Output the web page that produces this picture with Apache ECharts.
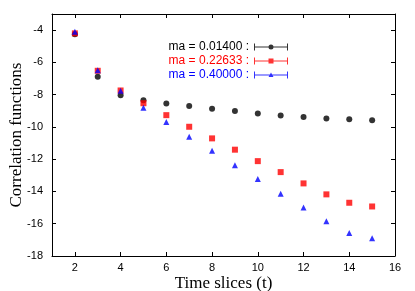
<!DOCTYPE html>
<html>
<head>
<meta charset="utf-8">
<script src="https://cdn.jsdelivr.net/npm/echarts@6/dist/echarts.min.js"></script>
<style>html,body{margin:0;padding:0;background:#fff;}#c{width:415px;height:291px;}</style>
</head>
<body>
<div id="c"></div>
<script>
var timeSlices = [2,3,4,5,6,7,8,9,10,11,12,13,14,15];
var seriesNames = ['ma = 0.01400 :', 'ma = 0.22633 :', 'ma = 0.40000 :'];
var ma01400 = [-4.25,-6.89,-8.03,-8.34,-8.54,-8.71,-8.87,-9.02,-9.16,-9.29,-9.39,-9.47,-9.53,-9.58];
var ma22633 = [-4.2,-6.52,-7.74,-8.53,-9.27,-9.99,-10.71,-11.41,-12.12,-12.8,-13.5,-14.18,-14.7,-14.93];
var ma40000 = [-4.1,-6.48,-7.75,-8.81,-9.7,-10.61,-11.48,-12.37,-13.23,-14.14,-15.0,-15.85,-16.58,-16.9];
var xTickLabels = [2,4,6,8,10,12,14,16];
var yTickLabels = [-18,-16,-14,-12,-10,-8,-6,-4];

function pairs(vals){ return timeSlices.map(function(t,i){ return [t, vals[i]]; }); }

var bar = 'M0,0h1v3h32v-3h1v7h-1v-3h-32v3h-1z';
var circleIcon = 'path://' + bar + 'M14.5,3.5a2.5,2.5 0 1,1 5,0a2.5,2.5 0 1,1 -5,0z';
var squareIcon = 'path://' + bar + 'M14.5,1h5v5h-5z';
var triIcon = 'path://' + bar + 'M17,1l2.5,4.5h-5z';

var labelFont = {color: '#000', fontFamily: 'Liberation Sans, Arial, sans-serif', fontSize: 11};
var nameFont = {color: '#000', fontFamily: 'Liberation Serif, Times New Roman, serif', fontSize: 17};

function axis(extra){
  return Object.assign({
    type: 'value',
    axisLine: {show: true, lineStyle: {color: '#000', width: 1}},
    splitLine: {show: false}
  }, extra);
}

var chart = echarts.init(document.getElementById('c'));
chart.setOption({
  animation: false,
  backgroundColor: '#fff',
  grid: {left: 52, right: 20, top: 14, bottom: 35, containLabel: false, outerBoundsMode: 'none'},
  legend: {
    orient: 'vertical',
    right: 122,
    top: 35,
    align: 'right',
    itemWidth: 34,
    itemHeight: 7,
    itemGap: 0,
    selectedMode: false,
    textStyle: {fontFamily: 'Liberation Sans, Arial, sans-serif', fontSize: 12, lineHeight: 14},
    data: [
      {name: seriesNames[0], icon: circleIcon, textStyle: {color: '#000'}},
      {name: seriesNames[1], icon: squareIcon, textStyle: {color: '#ff0000'}},
      {name: seriesNames[2], icon: triIcon, textStyle: {color: '#0000ff'}}
    ]
  },
  xAxis: [
    axis({
      min: 1, max: 16, position: 'bottom',
      axisTick: {show: true, inside: true, length: 4, lineStyle: {color: '#000'}, customValues: xTickLabels},
      axisLabel: Object.assign({margin: 6, customValues: xTickLabels}, labelFont),
      name: 'Time slices (t)', nameLocation: 'middle', nameGap: 19, nameMoveOverlap: false, nameTextStyle: nameFont
    }),
    axis({
      min: 1, max: 16, position: 'top',
      axisTick: {show: true, inside: true, length: 4, lineStyle: {color: '#000'}, customValues: xTickLabels},
      axisLabel: {show: false}
    })
  ],
  yAxis: [
    axis({
      min: -18, max: -3, position: 'left',
      axisTick: {show: true, inside: true, length: 4, lineStyle: {color: '#000'}, customValues: yTickLabels},
      axisLabel: Object.assign({margin: 9, customValues: yTickLabels}, labelFont),
      name: 'Correlation functions', nameLocation: 'middle', nameGap: 27, nameRotate: 90, nameMoveOverlap: false, nameTextStyle: nameFont
    }),
    axis({
      min: -18, max: -3, position: 'right',
      axisTick: {show: true, inside: true, length: 4, lineStyle: {color: '#000'}, customValues: yTickLabels},
      axisLabel: {show: false}
    })
  ],
  series: [
    {name: seriesNames[0], type: 'scatter', data: pairs(ma01400), symbol: 'circle', symbolSize: 6, itemStyle: {color: '#000'}, z: 3},
    {name: seriesNames[1], type: 'scatter', data: pairs(ma22633), symbol: 'rect', symbolSize: 6, itemStyle: {color: '#ff0000'}, z: 4},
    {name: seriesNames[2], type: 'scatter', data: pairs(ma40000), symbol: 'triangle', symbolSize: 6, itemStyle: {color: '#0000ff'}, z: 5}
  ]
});
</script>
</body>
</html>
